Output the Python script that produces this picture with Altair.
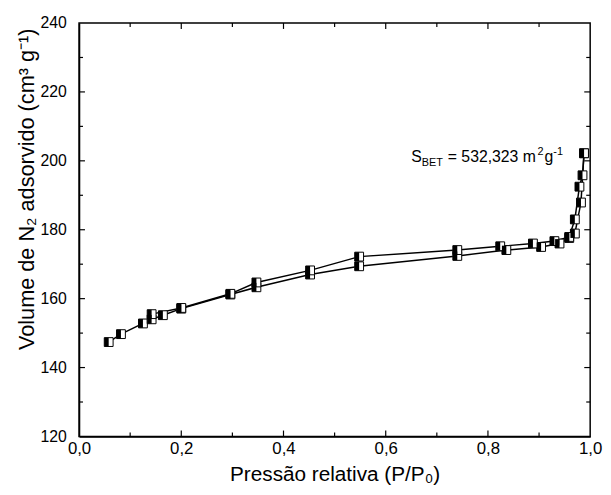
import altair as alt
import pandas as pd

# Adsorption branch (lower)
ads_x = [0.058, 0.082, 0.125, 0.142, 0.164, 0.200, 0.296, 0.347, 0.452, 0.548, 0.740, 0.836, 0.904, 0.940, 0.959, 0.970, 0.982, 0.988]
ads_y = [147.4, 149.7, 152.8, 154.0, 155.2, 157.1, 161.2, 163.3, 167.0, 169.4, 172.4, 174.1, 175.0, 176.0, 177.6, 178.9, 187.9, 202.2]
# Desorption branch (upper)
des_x = [0.988, 0.985, 0.979, 0.970, 0.959, 0.930, 0.888, 0.824, 0.740, 0.548, 0.452, 0.347, 0.296, 0.200, 0.142]
des_y = [202.2, 195.8, 192.5, 183.0, 177.9, 176.7, 176.0, 175.2, 174.1, 172.2, 168.2, 164.7, 161.4, 157.3, 155.5]

x_major = [0.2, 0.4, 0.6, 0.8]
x_minor = [0.1, 0.3, 0.5, 0.7, 0.9]
y_major = [140, 160, 180, 200, 220]
y_minor = [130, 150, 170, 190, 210, 230]
x_labels = [0.0, 0.2, 0.4, 0.6, 0.8, 1.0]
y_labels = [120, 140, 160, 180, 200, 220, 240]

annot_x = 0.65
annot_y = 199.7
annot_pieces = ["S", "BET", "= 532,323 m", "2", "g", "-1"]

W, H = 518, 419
FONT = "Liberation Sans"

rows = []
for i, (a, b) in enumerate(zip(ads_x, ads_y)):
    rows.append({"p": a, "v": b, "serie": "ads", "ord": i})
for i, (a, b) in enumerate(zip(des_x, des_y)):
    rows.append({"p": a, "v": b, "serie": "des", "ord": i})
df = pd.DataFrame(rows)

xs = alt.Scale(domain=[0, 1], nice=False, zero=False)
ys = alt.Scale(domain=[120, 240], nice=False, zero=False)

xax = alt.Axis(
    values=x_labels, labelExpr="replace(format(datum.value, '.1f'), '.', ',')",
    ticks=False, tickSize=0, labelPadding=4, labelFontSize=17, labelFont=FONT, labelColor="black",
    title="Pressão relativa (P/P₀)", titleFontSize=21, titleFont=FONT, titleFontWeight="normal",
    titleColor="black", titleY=45, titleBaseline="alphabetic", grid=False,
    domainColor="black", domainWidth=1.5, labelFlush=False,
)
yax = alt.Axis(
    values=y_labels, format="d", ticks=False, tickSize=0, labelPadding=13, labelFontSize=16,
    labelFont=FONT, labelColor="black",
    title="Volume de N₂ adsorvido (cm³ g⁻¹)", titleFontSize=22, titleFont=FONT,
    titleFontWeight="normal", titleColor="black", titleX=-41, titleY=168, grid=False,
    domainColor="black", domainWidth=1.5, labelFlush=False,
)

X = alt.X("p:Q", scale=xs, axis=xax)
Y = alt.Y("v:Q", scale=ys, axis=yax)

base = alt.Chart(df)
lines = base.mark_line(color="black", strokeWidth=1.5).encode(
    x=X, y=Y, detail="serie:N", order="ord:Q"
)
sq_open = base.mark_point(shape="square", filled=True, fill="white", stroke="black",
                          strokeWidth=1, size=80, opacity=1).encode(x=X, y=Y)
sq_half = base.mark_point(shape="M-1,-1L0,-1L0,1L-1,1Z", filled=True, fill="black",
                          strokeWidth=0, size=80, opacity=1).encode(x=X, y=Y)

def xticks(vals, length):
    d = pd.DataFrame({"p": vals})
    bot = alt.Chart(d).mark_rule(color="black", strokeWidth=1.2).encode(
        x=X, y=alt.value(H), y2=alt.value(H - length))
    top = alt.Chart(d).mark_rule(color="black", strokeWidth=1.2).encode(
        x=X, y=alt.value(0), y2=alt.value(length))
    return [bot, top]

def yticks(vals, length):
    d = pd.DataFrame({"v": vals})
    left = alt.Chart(d).mark_rule(color="black", strokeWidth=1.2).encode(
        y=Y, x=alt.value(0), x2=alt.value(length))
    right = alt.Chart(d).mark_rule(color="black", strokeWidth=1.2).encode(
        y=Y, x=alt.value(W), x2=alt.value(W - length))
    return [left, right]

ticks = xticks(x_major, 6) + xticks(x_minor, 4) + yticks(y_major, 6) + yticks(y_minor, 4)

adf = pd.DataFrame({"p": [annot_x], "v": [annot_y]})
offsets = [(0, 0, 16), (10.7, 4, 11), (37, 0, 16), (128, -7, 11), (135, 0, 16), (144, -7, 11)]
texts = []
for piece, (dx, dy, fs) in zip(annot_pieces, offsets):
    texts.append(
        alt.Chart(adf).mark_text(text=piece, align="left", baseline="alphabetic", dx=dx, dy=dy,
                                 fontSize=fs, font=FONT, color="black").encode(x=X, y=Y)
    )

chart = alt.layer(lines, sq_open, sq_half, *ticks, *texts).properties(
    width=W, height=H,
    autosize=alt.AutoSizeParams(type="none"),
    padding={"left": 72, "top": 12, "right": 13, "bottom": 48},
    background="white",
).configure_view(stroke="black", strokeWidth=1.5)

chart.save("out.html", embed_options={"renderer": "svg", "actions": False})
